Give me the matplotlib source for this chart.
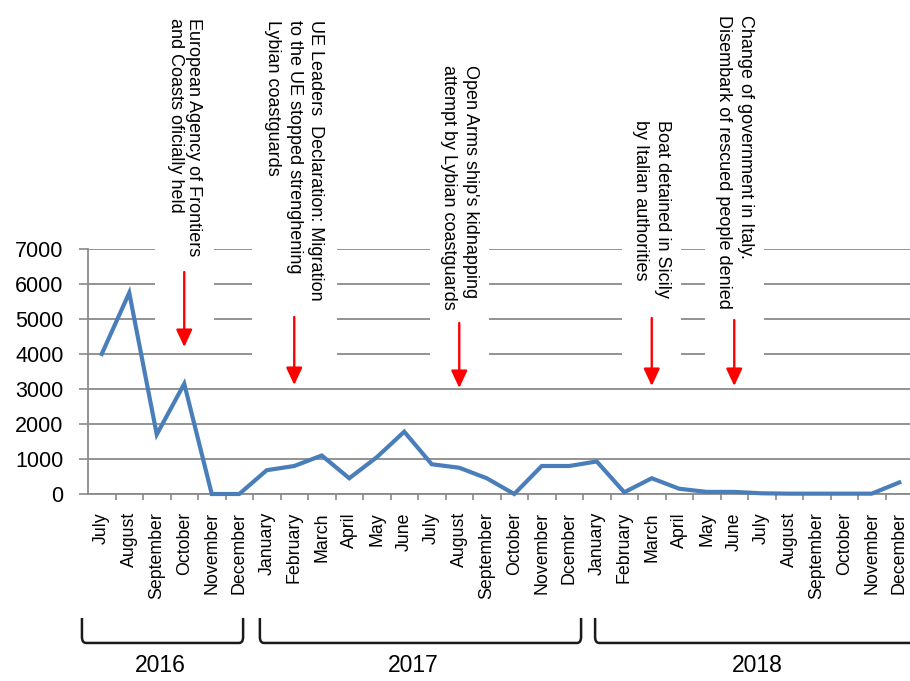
import numpy as np
import matplotlib.pyplot as plt
from matplotlib.path import Path
from matplotlib.patches import PathPatch, Rectangle

plt.rcParams['font.family'] = ['Liberation Sans', 'DejaVu Sans']

# monthly values, July 2016 - December 2018
months = ['July', 'August', 'September', 'October', 'November', 'December',
          'January', 'February', 'March', 'April', 'May', 'June', 'July',
          'August', 'September', 'October', 'November', 'Dcember',
          'January', 'February', 'March', 'April', 'May', 'June', 'July',
          'August', 'September', 'October', 'November', 'December']
values = [4000, 5750, 1700, 3150, 0, 0,
          680, 800, 1100, 450, 1050, 1780, 850, 750, 450, 0, 800, 800,
          930, 50, 450, 150, 60, 60, 20, 10, 10, 10, 10, 330]
years = ['2016', '2017', '2018']

events = ['European Agency of Frontiers\nand Coasts oficially held',
          'UE Leaders  Declaration: Migration\nto the UE stopped strenghening\nLybian coastguards',
          "Open Arms ship's kidnapping\nattempt by Lybian coastguards",
          'Boat detained in Sicily\nby Italian authorities',
          'Change of government in Italy.\nDisembark of rescued people denied']
event_idx = [3, 7, 13, 20, 23]
text_top = [13600, 13543, 12257, 10686, 13686]
arrow_top = [6343, 5057, 4886, 5029, 4971]
arrow_bottom = [4200, 3114, 3029, 3086, 3086]
box_bottom = [4550, 3550, 3550, 3550, 3550]

grey = '#8a8a8a'

fig = plt.figure(figsize=(9.1, 6.81), dpi=100)
ax = fig.add_axes([88 / 910, (681 - 494) / 681, 825 / 910, 245 / 681])

x = np.arange(len(months))
ax.plot(x, values, color='#4a7ebb', lw=3.0, zorder=3, clip_on=False,
        solid_joinstyle='miter')

ax.set_xlim(-0.5, len(months) - 0.5)
ax.set_ylim(0, 7000)
ax.set_yticks(np.arange(0, 7001, 1000))
ax.set_xticks(x)
ax.set_xticklabels(months, rotation=90, fontsize=12.8)
ax.set_xticks(x[:-1] + 0.5, minor=True)
ax.tick_params(axis='x', which='major', length=0, pad=13)
ax.tick_params(axis='x', which='minor', length=4.5, width=1.2, color=grey)
ax.tick_params(axis='y', length=6.5, width=1.2, color=grey, pad=11,
               labelsize=15.5)

ax.set_axisbelow(True)
ax.yaxis.grid(True, color=grey, lw=1.3)
for s in ['top', 'right']:
    ax.spines[s].set_visible(False)
for s in ['left', 'bottom']:
    ax.spines[s].set_color(grey)
    ax.spines[s].set_linewidth(1.3)

# white text boxes cutting the grid, text and arrows
for i, txt, tt, a0, a1, bb in zip(event_idx, events, text_top, arrow_top,
                                   arrow_bottom, box_bottom):
    n = txt.count('\n') + 1
    w = 0.95 * n + 0.25
    ax.add_patch(Rectangle((i - w / 2, bb), w, 8000 - bb, facecolor='white',
                           edgecolor='none', zorder=1))
    ls = 1.1 if i == 3 else 1.35
    ax.text(i, tt, txt, rotation=-90, ha='center', va='top',
            multialignment='left', fontsize=13, linespacing=ls,
            clip_on=False, zorder=4)
    ax.annotate('', xy=(i, a1), xytext=(i, a0),
                arrowprops=dict(arrowstyle='-|>,head_length=0.75,head_width=0.35',
                                color='red', lw=1.7, mutation_scale=14,
                                shrinkA=0, shrinkB=0),
                annotation_clip=False, zorder=5)

# year brackets below the month labels
spans = [(-0.72, 5.14), (5.75, 17.43), (17.94, 29.8)]
label_x = [2.12, 11.32, 23.83]
yt, yb, rx, ry = -0.506, -0.608, 0.15, 0.025
tr = ax.get_xaxis_transform()
for (x0, x1), lx, yr in zip(spans, label_x, years):
    verts = [(x0, yt), (x0, yb + ry), (x0, yb), (x0 + rx, yb),
             (x1 - rx, yb), (x1, yb), (x1, yb + ry), (x1, yt)]
    codes = [Path.MOVETO, Path.LINETO, Path.CURVE3, Path.CURVE3,
             Path.LINETO, Path.CURVE3, Path.CURVE3, Path.LINETO]
    ax.add_patch(PathPatch(Path(verts, codes), transform=tr, fill=False,
                           edgecolor='#1a1a1a', lw=1.8, clip_on=False))
    ax.text(lx, -0.698, yr, transform=tr, ha='center', va='center',
            fontsize=16.5)

fig.savefig('out.png', dpi=100)
